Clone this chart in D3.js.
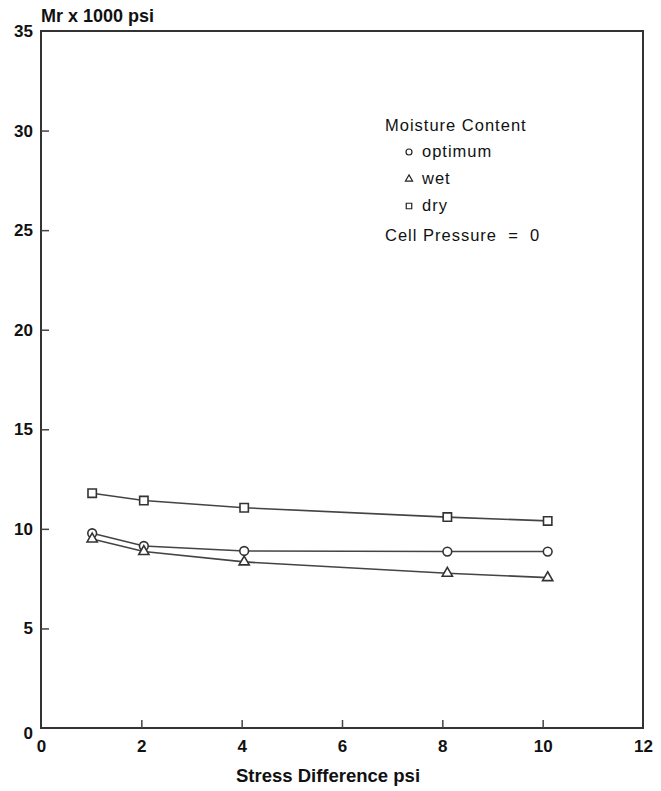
<!DOCTYPE html>
<html>
<head>
<meta charset="utf-8">
<script src="https://cdn.jsdelivr.net/npm/d3@7"></script>
<style>
  body { margin: 0; background: #fff; }
  svg { display: block; }
  text { font-family: Helvetica, Arial, "Liberation Sans", sans-serif; fill: #111; }
</style>
</head>
<body>
<div id="chart"></div>
<script>
// data
const stress = [1.02, 2.05, 4.05, 8.1, 10.1];
const optimum = [9.78, 9.14, 8.89, 8.86, 8.86];
const wet = [9.49, 8.86, 8.34, 7.77, 7.55];
const dry = [11.79, 11.42, 11.06, 10.59, 10.4];
const xTicks = [0, 2, 4, 6, 8, 10, 12];
const yTicks = [0, 5, 10, 15, 20, 25, 30, 35];
const legendItems = ["optimum", "wet", "dry"];

const W = 661, H = 791;
const margin = {top: 31, right: 18, bottom: 63, left: 41};
const width = W - margin.left - margin.right,
      height = H - margin.top - margin.bottom;

const svg = d3.select("#chart").append("svg")
    .attr("width", W)
    .attr("height", H);

const g = svg.append("g")
    .attr("transform", "translate(" + margin.left + "," + margin.top + ")");

const x = d3.scaleLinear().domain([0, 12]).range([0, width]);
const y = d3.scaleLinear().domain([0, 35]).range([height, 0]);

// frame
g.append("rect")
    .attr("x", 0).attr("y", 0)
    .attr("width", width).attr("height", height)
    .attr("fill", "none")
    .attr("stroke", "#333")
    .attr("stroke-width", 2);

// axes, inward ticks
const xAxis = g.append("g")
    .attr("transform", "translate(0," + height + ")")
    .call(d3.axisBottom(x).tickValues(xTicks).tickSize(-8).tickPadding(12));
const yAxis = g.append("g")
    .call(d3.axisLeft(y).tickValues(yTicks).tickSize(-8).tickPadding(8));

[xAxis, yAxis].forEach(a => {
    a.select(".domain").remove();
    a.selectAll(".tick line").attr("stroke", "#444").attr("stroke-width", 1.5);
    a.selectAll(".tick text")
        .attr("font-size", "17px")
        .attr("font-weight", "bold")
        .attr("fill", "#111");
});
// no tick marks on the frame corners
xAxis.selectAll(".tick").filter(d => d == 0 || d == 12).select("line").remove();
yAxis.selectAll(".tick").filter(d => d == 0 || d == 35).select("line").remove();
yAxis.selectAll(".tick").filter(d => d == 0).select("text").attr("dy", "0.6em");

// titles
svg.append("text")
    .attr("x", 41).attr("y", 22)
    .attr("font-size", "18px")
    .attr("font-weight", "bold")
    .text("Mr x 1000 psi");

svg.append("text")
    .attr("x", margin.left + x(6) - 14).attr("y", 782)
    .attr("text-anchor", "middle")
    .attr("font-size", "18.5px")
    .attr("font-weight", "bold")
    .text("Stress Difference psi");

// series
const series = [
    {key: "optimum", vals: optimum, shape: d3.symbolCircle},
    {key: "wet", vals: wet, shape: d3.symbolTriangle},
    {key: "dry", vals: dry, shape: d3.symbolSquare}
];

const line = d3.line()
    .x(d => x(d[0]))
    .y(d => y(d[1]));

series.forEach(s => {
    const pts = stress.map((v, i) => [v, s.vals[i]]);
    g.append("path")
        .datum(pts)
        .attr("d", line)
        .attr("fill", "none")
        .attr("stroke", "#444")
        .attr("stroke-width", 1.6);
});

series.forEach(s => {
    const pts = stress.map((v, i) => [v, s.vals[i]]);
    const size = s.shape == d3.symbolTriangle ? 45 : s.shape == d3.symbolSquare ? 70 : 60;
    g.selectAll("path.pt-" + s.key)
        .data(pts)
        .enter().append("path")
        .attr("class", "pt-" + s.key)
        .attr("transform", d => "translate(" + x(d[0]) + "," + y(d[1]) + ")")
        .attr("d", d3.symbol().type(s.shape).size(size))
        .attr("fill", "#fff")
        .attr("stroke", "#333")
        .attr("stroke-width", 1.6);
});

// legend
const leg = svg.append("g");
leg.append("text")
    .attr("x", 385).attr("y", 131)
    .attr("font-size", "16.5px")
    .attr("letter-spacing", "1px")
    .text("Moisture Content");

const legY = [157, 184, 211];
series.forEach((s, i) => {
    const size = s.shape == d3.symbolTriangle ? 22 : s.shape == d3.symbolSquare ? 30 : 28;
    leg.append("path")
        .attr("transform", "translate(409," + (legY[i] - 5) + ")")
        .attr("d", d3.symbol().type(s.shape).size(size))
        .attr("fill", "#fff")
        .attr("stroke", "#222")
        .attr("stroke-width", 1.2);
    leg.append("text")
        .attr("x", 422).attr("y", legY[i])
        .attr("font-size", "16.5px")
        .attr("letter-spacing", "1px")
        .text(legendItems[i]);
});

leg.append("text")
    .attr("x", 385).attr("y", 241)
    .attr("font-size", "16.5px")
    .attr("letter-spacing", "1px")
    .style("white-space", "pre")
    .text("Cell Pressure  =  0");
</script>
</body>
</html>
